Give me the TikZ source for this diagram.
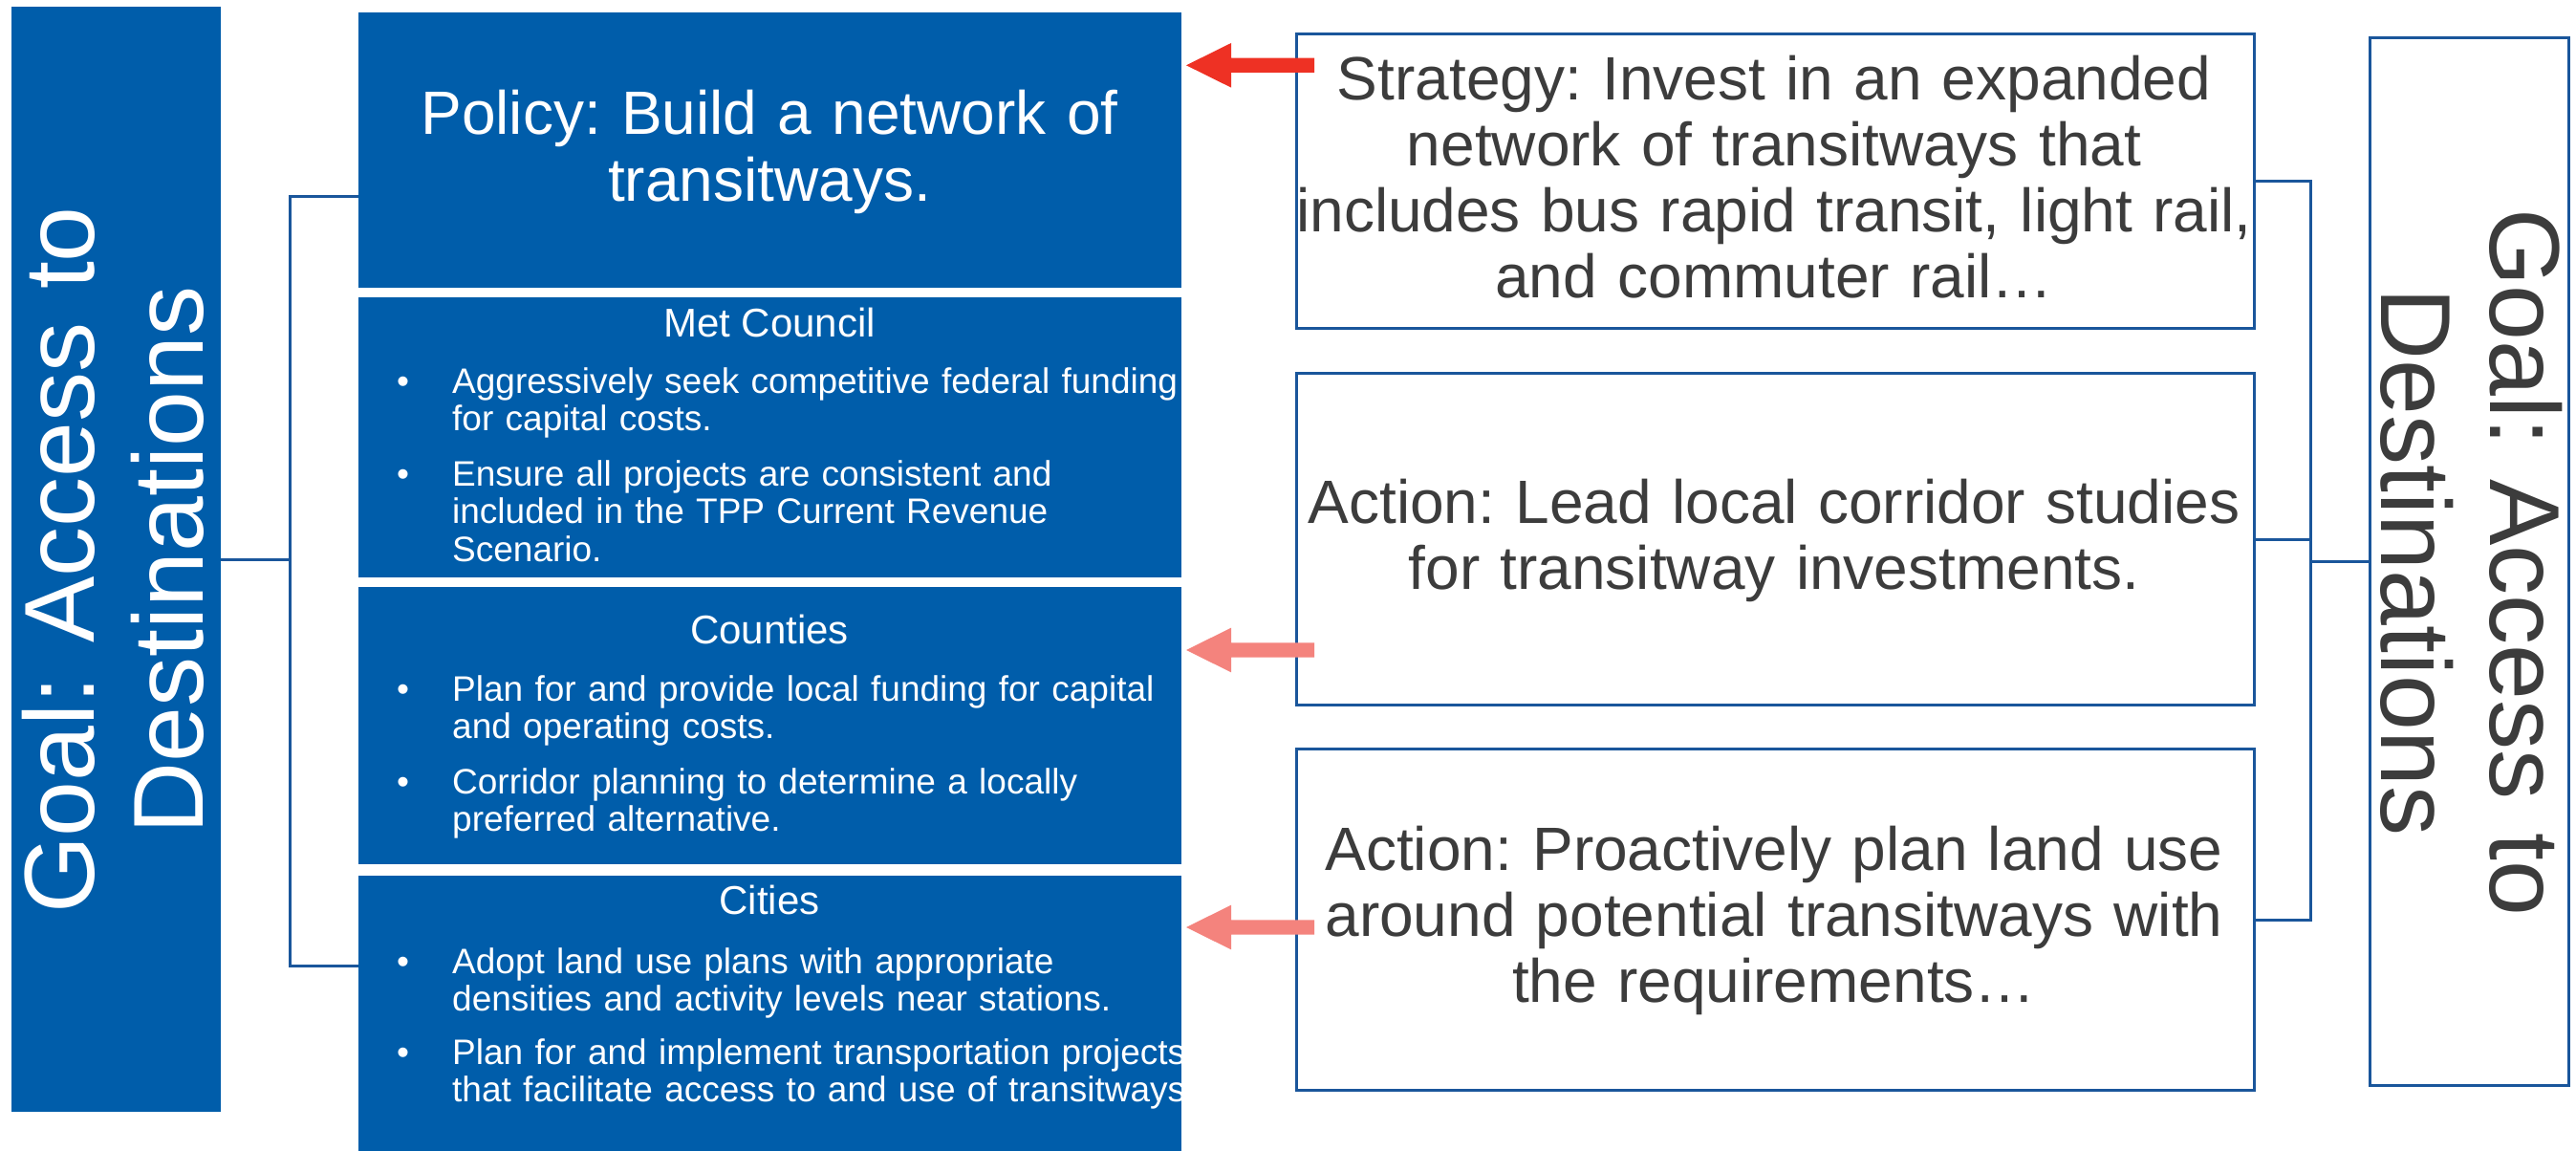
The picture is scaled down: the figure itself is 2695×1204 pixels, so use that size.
\documentclass[tikz,border=0pt]{standalone}
\usepackage{fontspec}
\setmainfont{Liberation Sans}
\frenchspacing
\definecolor{mblue}{HTML}{005DAA}
\definecolor{lblue}{HTML}{1A569B}
\definecolor{tgray}{HTML}{3C3C3C}
\definecolor{ared}{HTML}{EE3124}
\definecolor{apink}{HTML}{F4837D}
\tikzset{
  bluebox/.style={fill=mblue, draw=mblue, line width=1pt, inner sep=0pt, anchor=north west},
  whitebox/.style={fill=white, draw=lblue, line width=3pt, inner sep=0pt, anchor=north west},
  conn/.style={draw=lblue, line width=3pt},
  bigtxt/.style={anchor=base, align=center, inner sep=0pt, text=tgray, text width=1000pt, font=\frenchspacing\fontsize{64}{69}\selectfont},
  poltxt/.style={anchor=base, align=center, inner sep=0pt, text=white, text width=840pt, font=\frenchspacing\fontsize{64}{70}\selectfont},
  goaltxt/.style={anchor=base, align=center, inner sep=0pt, text width=800pt, font=\frenchspacing\fontsize{104}{114}\selectfont},
  headtxt/.style={anchor=base, inner sep=0pt, text=white, font=\frenchspacing\fontsize{42}{46}\selectfont},
  bultxt/.style={anchor=base west, align=left, inner sep=0pt, text=white, text width=800pt, font=\frenchspacing\fontsize{37}{39.5}\selectfont},
  bulmark/.style={anchor=base west, inner sep=0pt, text=white, font=\fontsize{37}{40}\selectfont},
}
\newcommand\fatarrow[2]{\fill[#2] (#1) -- ++(47,-23.3) -- ++(0,15.6) -- ++(87,0) -- ++(0,15.4) -- ++(-87,0) -- ++(0,15.6) -- cycle;}
\begin{document}
\begin{tikzpicture}[x=1pt,y=-1pt]
\useasboundingbox (0,0) rectangle (2695,1204);
% left goal
\node[bluebox, minimum width=218pt, minimum height=1155pt] (leftgoal) at (12,7) {};
\node[goaltxt, text=white, rotate=90] (leftgoaltxt) at (98,586) {Goal: Access to\\Destinations};
% middle blue boxes
\node[bluebox, minimum width=860pt, minimum height=287pt] (policy) at (375,13) {};
\node[bluebox, minimum width=860pt, minimum height=292pt] (met) at (375,311) {};
\node[bluebox, minimum width=860pt, minimum height=289pt] (counties) at (375,614) {};
\node[bluebox, minimum width=860pt, minimum height=290pt] (cities) at (375,916) {};
\node[poltxt] (policytxt) at (805,141) {Policy: Build a network of\\transitways.};
% Met Council
\node[headtxt] (methead) at (805,352) {Met Council};
\node[bulmark] (mb1) at (415,411) {•};
\node[bultxt] (mt1) at (473,411) {Aggressively seek competitive federal funding\\for capital costs.};
\node[bulmark] (mb2) at (415,508) {•};
\node[bultxt] (mt2) at (473,508) {Ensure all projects are consistent and\\included in the TPP Current Revenue\\Scenario.};
% Counties
\node[headtxt] (counthead) at (805,673.5) {Counties};
\node[bulmark] (cb1) at (415,733) {•};
\node[bultxt] (ct1) at (473,733) {Plan for and provide local funding for capital\\and operating costs.};
\node[bulmark] (cb2) at (415,830) {•};
\node[bultxt] (ct2) at (473,830) {Corridor planning to determine a locally\\preferred alternative.};
% Cities
\node[headtxt] (cithead) at (805,956) {Cities};
\node[bulmark] (ib1) at (415,1018) {•};
\node[bultxt] (it1) at (473,1018) {Adopt land use plans with appropriate\\densities and activity levels near stations.};
\node[bulmark] (ib2) at (415,1113) {•};
\node[bultxt] (it2) at (473,1113) {Plan for and implement transportation projects\\that facilitate access to and use of transitways.};
% right white boxes
\node[whitebox, minimum width=1002pt, minimum height=308pt] (strategy) at (1355,34) {};
\node[whitebox, minimum width=1002pt, minimum height=347pt] (action1) at (1355,389) {};
\node[whitebox, minimum width=1002pt, minimum height=357pt] (action2) at (1355,782) {};
\node[whitebox, minimum width=208pt, minimum height=1096pt] (rightgoal) at (2478,38) {};
\node[bigtxt] (strategytxt) at (1856,105) {Strategy: Invest in an expanded\\network of transitways that\\includes bus rapid transit, light rail,\\and commuter rail…};
\node[bigtxt] (action1txt) at (1856,547) {Action: Lead local corridor studies\\for transitway investments.};
\node[bigtxt] (action2txt) at (1856,910) {Action: Proactively plan land use\\around potential transitways with\\the requirements…};
\node[goaltxt, text=tgray, rotate=-90] (rightgoaltxt) at (2605,588) {Goal: Access to\\Destinations};
% left connectors
\coordinate (ljtop) at (303,205);
\coordinate (ljbot) at (303,1010);
\draw[conn] (leftgoal.east) -- (leftgoal.east -| ljtop);
\draw[conn] (ljtop -| policy.west) -- (ljtop) -- (ljbot) -- (ljbot -| cities.west);
% right connectors
\coordinate (rj) at (2417,0);
\draw[conn] (strategy.east) -- (strategy.east -| rj) -- (action2.east -| rj) -- (action2.east);
\draw[conn] (action1.east) -- (action1.east -| rj);
\draw[conn] (rightgoal.west -| rj) -- (rightgoal.west);
% arrows
\coordinate (tipA) at (1241,68.3);
\coordinate (tipB) at (1241,680);
\coordinate (tipC) at (1241,970);
\fatarrow{tipA}{ared}
\fatarrow{tipB}{apink}
\fatarrow{tipC}{apink}
\end{tikzpicture}
\end{document}
